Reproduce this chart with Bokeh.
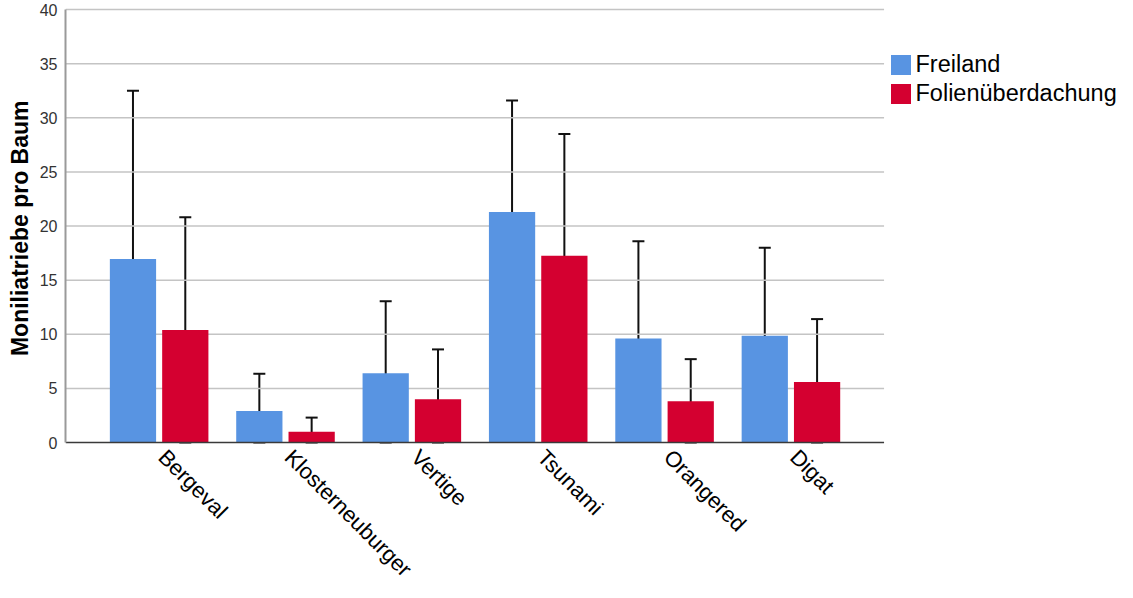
import math
from bokeh.plotting import figure
from bokeh.models import (ColumnDataSource, Range1d, FixedTicker, Whisker, TeeHead,
                          Legend, LegendItem, LabelSet, Title)
from bokeh.core.properties import value
from bokeh.embed import file_html
from bokeh.resources import INLINE

categories = ["Bergeval", "Klosterneuburger", "Vertige", "Tsunami", "Orangered", "Digat"]
series_names = ["Freiland", "Folienüberdachung"]
freiland = [16.95, 2.9, 6.4, 21.3, 9.6, 9.85]
freiland_lower = [1.5, 0.0, 0.0, 11.1, 0.7, 1.8]
freiland_upper = [32.5, 6.35, 13.05, 31.6, 18.6, 18.0]
folie = [10.4, 1.0, 4.0, 17.25, 3.8, 5.6]
folie_lower = [0.0, 0.0, 0.0, 6.05, 0.0, 0.0]
folie_upper = [20.8, 2.3, 8.6, 28.5, 7.7, 11.4]
y_ticks = [0, 5, 10, 15, 20, 25, 30, 35, 40]
y_title = "Moniliatriebe pro Baum"

FONT = "Liberation Sans"
BLUE = "#5894e2"
RED = "#d40030"
OFF = 0.207
BW = 0.366

# layout (screen-space) parameters
W, H = 1117, 582
TOP_PAD = 9          # px from canvas top to y=40
BASE_Y = 442         # canvas px of y=0
LEFT = 58            # frame left (canvas px)
DATA_RIGHT_PX = 882  # right end of plotting area (canvas px)
X0, X1 = -0.741, 5.737
ppx = (DATA_RIGHT_PX - LEFT) / (X1 - X0)
ppy = (BASE_Y - TOP_PAD) / (y_ticks[-1] - y_ticks[0])
x_end = X0 + (W - LEFT) / ppx
y_start = -(H - BASE_Y) / ppy
y_end = y_ticks[-1] + TOP_PAD / ppy

pos = list(range(len(categories)))
src_a = ColumnDataSource(dict(x=[p - OFF for p in pos], top=freiland,
                              lower=freiland_lower, upper=freiland_upper))
src_b = ColumnDataSource(dict(x=[p + OFF for p in pos], top=folie,
                              lower=folie_lower, upper=folie_upper))
src_lab = ColumnDataSource(dict(x=pos, y=[0] * len(pos), text=categories))
grid_y = y_ticks[1:]
src_grid = ColumnDataSource(dict(x0=[X0] * len(grid_y), x1=[X1] * len(grid_y),
                                 y=grid_y))

p = figure(width=W, height=H, output_backend="svg", toolbar_location=None,
           x_range=Range1d(X0, x_end), y_range=Range1d(y_start, y_end),
           min_border_top=0, min_border_bottom=0, min_border_left=0,
           min_border_right=0)
p.outline_line_color = None
p.background_fill_color = "white"
p.xgrid.grid_line_color = None
p.ygrid.grid_line_color = None
p.xaxis.visible = False

# horizontal grid lines, only across the plotting area
p.segment(x0="x0", x1="x1", y0="y", y1="y", source=src_grid,
          line_color="#c4c4c4", line_width=1.5)

r_a = p.vbar(x="x", top="top", width=BW, source=src_a, fill_color=BLUE, line_color=None)
r_b = p.vbar(x="x", top="top", width=BW, source=src_b, fill_color=RED, line_color=None)

# baseline (x axis line)
p.segment(x0=[X0], x1=[X1], y0=[0], y1=[0], line_color="#3a3a3a", line_width=1.5)

for src in (src_a, src_b):
    w = Whisker(base="x", lower="lower", upper="upper", source=src,
                line_color="#111111", line_width=2,
                upper_head=TeeHead(size=12, line_color="#111111", line_width=2),
                lower_head=TeeHead(size=12, line_color="#111111", line_width=2))
    p.add_layout(w)

# y axis
p.yaxis.ticker = FixedTicker(ticks=y_ticks)
p.yaxis.bounds = (y_ticks[0], y_ticks[-1])
p.yaxis.major_label_text_font = FONT
p.yaxis.major_label_text_font_size = "16px"
p.yaxis.major_label_text_color = "#333333"
p.yaxis.major_label_standoff = 8
p.yaxis.major_tick_line_color = None
p.yaxis.major_tick_out = 0
p.yaxis.major_tick_in = 0
p.yaxis.minor_tick_line_color = None
p.yaxis.axis_line_color = "#9a9a9a"
p.yaxis.axis_line_width = 2

# y axis title, positioned along the 0..40 span
p.add_layout(Title(text=y_title, align="right", offset=100, standoff=8,
                   text_font=FONT, text_font_style="bold", text_font_size="23px",
                   text_color="black"), "left")

# category labels, rotated
labels = LabelSet(x="x", y="y", text="text", source=src_lab, angle=-math.pi / 4,
                  text_align="left", text_baseline="top", x_offset=12, y_offset=-2,
                  text_font=value(FONT), text_font_size=value("22px"),
                  text_color="black")
p.add_layout(labels)

legend = Legend(items=[LegendItem(label=series_names[0], renderers=[r_a]),
                       LegendItem(label=series_names[1], renderers=[r_b])],
                location=(DATA_RIGHT_PX - 1.5 - LEFT, H - 48.5 - 58), padding=0, margin=0,
                spacing=2, glyph_width=25, glyph_height=25, label_height=25,
                label_standoff=3, border_line_color=None,
                label_text_font=FONT, label_text_font_size="23.5px",
                label_text_color="black", background_fill_alpha=0)
p.add_layout(legend, "center")

open("out.html", "w").write(file_html(p, INLINE))
